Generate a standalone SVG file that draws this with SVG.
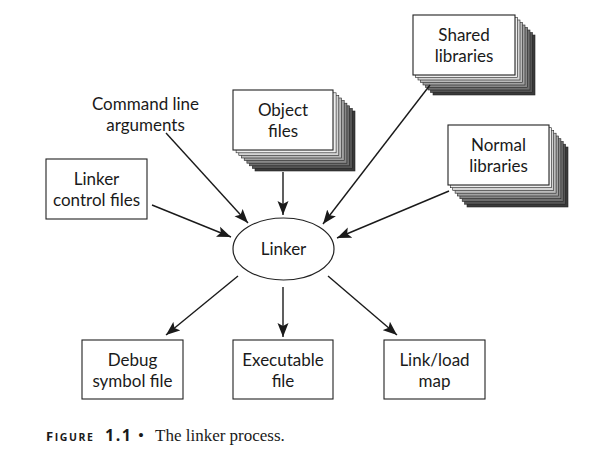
<svg xmlns="http://www.w3.org/2000/svg" width="594" height="456" viewBox="0 0 594 456">
<defs>
<marker id="ah" markerUnits="userSpaceOnUse" markerWidth="16" markerHeight="12" refX="14" refY="6" orient="auto">
<path d="M0,0.5 L14,6 L0,11.5 L3,6 Z" fill="#1a1a1a"/>
</marker>
</defs>
<style>
.bx{fill:#fff;stroke:#222;stroke-width:1.1}
.ly{stroke:#222;stroke-width:0.6}
.t{font-family:Lato,"Open Sans",sans-serif;font-size:17px;fill:#1a1a1a;text-anchor:middle}
.c{stroke:#1a1a1a;stroke-width:1.4;fill:none;marker-end:url(#ah)}
</style>
<rect width="594" height="456" fill="#fff"/>

<g id="object-files">
<rect class="ly" x="255" y="111" width="100" height="60" fill="#3a3a3a"/>
<rect class="ly" x="252.3" y="108.4" width="100" height="60" fill="#555"/>
<rect class="ly" x="249.6" y="105.8" width="100" height="60" fill="#6e6e6e"/>
<rect class="ly" x="246.9" y="103.2" width="100" height="60" fill="#888"/>
<rect class="ly" x="244.2" y="100.6" width="100" height="60" fill="#a2a2a2"/>
<rect class="ly" x="241.5" y="98" width="100" height="60" fill="#bbb"/>
<rect class="ly" x="238.8" y="95.4" width="100" height="60" fill="#d4d4d4"/>
<rect class="ly" x="236.1" y="92.8" width="100" height="60" fill="#eee"/>
<rect class="bx" x="233" y="90" width="100" height="60"/>
<text class="t" x="283" y="116">Object</text>
<text class="t" x="283" y="136.5">files</text>
</g>

<g id="shared-libraries">
<rect class="ly" x="433" y="35" width="102" height="60" fill="#3a3a3a"/>
<rect class="ly" x="430.5" y="32.5" width="102" height="60" fill="#555"/>
<rect class="ly" x="428" y="30" width="102" height="60" fill="#6e6e6e"/>
<rect class="ly" x="425.5" y="27.5" width="102" height="60" fill="#888"/>
<rect class="ly" x="423" y="25" width="102" height="60" fill="#a2a2a2"/>
<rect class="ly" x="420.5" y="22.5" width="102" height="60" fill="#bbb"/>
<rect class="ly" x="418" y="20" width="102" height="60" fill="#d4d4d4"/>
<rect class="ly" x="415.5" y="17.5" width="102" height="60" fill="#eee"/>
<rect class="bx" x="413" y="15" width="102" height="60"/>
<text class="t" x="464" y="41">Shared</text>
<text class="t" x="464" y="61.5">libraries</text>
</g>

<g id="normal-libraries">
<rect class="ly" x="467" y="147" width="101" height="60" fill="#3a3a3a"/>
<rect class="ly" x="464.6" y="144.2" width="101" height="60" fill="#555"/>
<rect class="ly" x="462.2" y="141.5" width="101" height="60" fill="#6e6e6e"/>
<rect class="ly" x="459.9" y="138.7" width="101" height="60" fill="#888"/>
<rect class="ly" x="457.5" y="136" width="101" height="60" fill="#a2a2a2"/>
<rect class="ly" x="455.1" y="133.2" width="101" height="60" fill="#bbb"/>
<rect class="ly" x="452.7" y="130.5" width="101" height="60" fill="#d4d4d4"/>
<rect class="ly" x="450.4" y="127.7" width="101" height="60" fill="#eee"/>
<rect class="bx" x="448" y="125" width="101" height="60"/>
<text class="t" x="498.5" y="151">Normal</text>
<text class="t" x="498.5" y="171.5">libraries</text>
</g>

<g id="command-line-arguments">
<text class="t" x="145.5" y="110">Command line</text>
<text class="t" x="145.5" y="130.5">arguments</text>
</g>

<g id="linker-control-files">
<rect class="bx" x="46" y="159" width="101" height="60"/>
<text class="t" x="96.5" y="185">Linker</text>
<text class="t" x="96.5" y="205.5">control files</text>
</g>

<g id="linker">
<ellipse cx="283.5" cy="249" rx="50.5" ry="31" fill="#fff" stroke="#222" stroke-width="1.2"/>
<text class="t" x="283.5" y="255">Linker</text>
</g>

<g id="debug-symbol-file">
<rect class="bx" x="82" y="340" width="101" height="59"/>
<text class="t" x="132.5" y="366">Debug</text>
<text class="t" x="132.5" y="386.5">symbol file</text>
</g>

<g id="executable-file">
<rect class="bx" x="233" y="340" width="100" height="59"/>
<text class="t" x="283" y="366">Executable</text>
<text class="t" x="283" y="386.5">file</text>
</g>

<g id="link-load-map">
<rect class="bx" x="384" y="340" width="101" height="59"/>
<text class="t" x="434.5" y="366">Link/load</text>
<text class="t" x="434.5" y="386.5">map</text>
</g>

<g id="connectors">
<line class="c" x1="166" y1="133" x2="248" y2="223"/>
<line class="c" x1="283" y1="172" x2="283" y2="215"/>
<line class="c" x1="430" y1="85" x2="323" y2="224"/>
<line class="c" x1="152" y1="205" x2="231" y2="237"/>
<line class="c" x1="449" y1="191" x2="337" y2="238"/>
<line class="c" x1="238" y1="276" x2="166" y2="335"/>
<line class="c" x1="283" y1="287" x2="283" y2="337"/>
<line class="c" x1="328" y1="276" x2="397" y2="335"/>
</g>

<g id="caption">
<text x="46" y="441" font-family="Liberation Serif,serif" font-size="17" fill="#1a1a1a"><tspan font-family="Open Sans,sans-serif" font-weight="bold" font-size="13" letter-spacing="1.6">F</tspan><tspan font-family="Open Sans,sans-serif" font-weight="bold" font-size="10.5" letter-spacing="1.6">IGURE</tspan><tspan font-family="Open Sans,sans-serif" font-weight="bold" font-size="16" letter-spacing="1.5" x="105">1.1</tspan><tspan x="138">•</tspan><tspan x="155">The linker process.</tspan></text>
</g>
</svg>
